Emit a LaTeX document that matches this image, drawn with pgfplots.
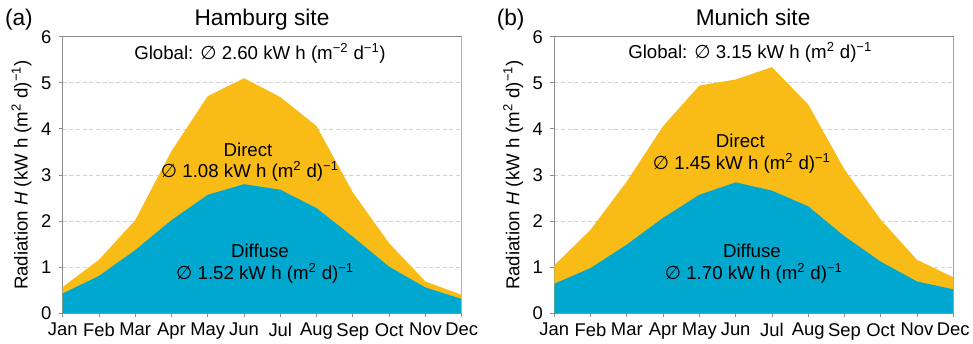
\documentclass[border=0pt]{standalone}
\usepackage{pgfplots}
\pgfplotsset{compat=1.18}
\usepackage{fontspec}
\setmainfont{Liberation Sans}
\newfontfamily\symfont{DejaVu Sans}
\definecolor{dirc}{HTML}{F9BC16}
\definecolor{difc}{HTML}{00A8CF}
\definecolor{axc}{HTML}{8C8C8C}
\newcommand{\avg}{{\symfont\char"2205}}
\newcommand{\supm}[1]{\textsuperscript{#1}}
\tikzset{ann/.style={font=\fontsize{14}{16}\selectfont, inner sep=1pt}}

\pgfplotstableread{
m total diffuse
0 0.57 0.43
1 1.16 0.81
2 2.02 1.37
3 3.52 2.02
4 4.71 2.57
5 5.10 2.80
6 4.69 2.68
7 4.06 2.28
8 2.62 1.66
9 1.52 1.01
10 0.69 0.56
11 0.40 0.31
}\hamburg

\pgfplotstableread{
m total diffuse
0 1.04 0.64
1 1.81 0.98
2 2.86 1.49
3 4.06 2.07
4 4.94 2.57
5 5.07 2.84
6 5.34 2.66
7 4.53 2.32
8 3.12 1.67
9 2.03 1.12
10 1.16 0.69
11 0.78 0.52
}\munich

\pgfplotsset{
  radstyle/.style={
    scale only axis,
    width=299.25pt, height=207.45pt,
    xmin=0, xmax=11, ymin=0, ymax=6,
    xtick={0,...,11},
    xticklabels={Jan,Feb,Mar,Apr,May,Jun,Jul,Aug,Sep,Oct,Nov,Dec},
    ytick={0,...,6},
    tick align=outside,
    major tick length=3pt,
    tick style={axc, line width=0.6pt},
    xtick pos=bottom, ytick pos=left,
    ymajorgrids,
    grid style={densely dashed, gray!35, line width=0.5pt},
    axis line style={axc, line width=0.8pt},
    /pgf/number format/assume math mode=true,
    ticklabel style={font=\fontsize{13.8}{15}\selectfont},
    xticklabel style={yshift=-1pt, inner xsep=0pt},
    yticklabel style={xshift=-2pt},
    ylabel={Radiation \textit{H} (kW h (m\supm{2} d)\supm{−1})},
    ylabel style={at={(axis description cs:-0.103,0.5)}, anchor=center, font=\fontsize{14}{16}\selectfont},
  }
}

\begin{document}
\begin{tikzpicture}
\path[use as bounding box] (0,0) rectangle (729.75pt,257.25pt);

\node[anchor=base, font=\fontsize{17}{19}\selectfont] at (14.2pt,237.75pt) {(a)};
\node[anchor=base, font=\fontsize{17}{19}\selectfont] at (196.5pt,237.75pt) {Hamburg site};
\node[anchor=base, font=\fontsize{17}{19}\selectfont] at (383pt,237.75pt) {(b)};
\node[anchor=base, font=\fontsize{17}{19}\selectfont] at (564.8pt,237.75pt) {Munich site};

\begin{axis}[radstyle, at={(47.0pt,22.3pt)}, anchor=south west]
\addplot[fill=dirc, draw=none] table[x=m, y=total] {\hamburg} \closedcycle;
\addplot[fill=difc, draw=none] table[x=m, y=diffuse] {\hamburg} \closedcycle;
\draw[axc!50, line width=0.8pt] (axis cs:11,0) -- (axis cs:11,6);
\node[ann] at (axis cs:5.44,5.64) {Global: \avg{} 2.60 kW h (m\supm{−2} d\supm{−1})};
\node[ann] at (axis cs:5.11,3.54) {Direct};
\node[ann] at (axis cs:5.16,3.07) {\avg{} 1.08 kW h (m\supm{2} d)\supm{−1}};
\node[ann] at (axis cs:5.44,1.36) {Diffuse};
\node[ann] at (axis cs:5.58,0.87) {\avg{} 1.52 kW h (m\supm{2} d)\supm{−1}};
\end{axis}

\begin{axis}[radstyle, at={(415.7pt,22.3pt)}, anchor=south west]
\addplot[fill=dirc, draw=none] table[x=m, y=total] {\munich} \closedcycle;
\addplot[fill=difc, draw=none] table[x=m, y=diffuse] {\munich} \closedcycle;
\draw[axc!50, line width=0.8pt] (axis cs:11,0) -- (axis cs:11,6);
\node[ann] at (axis cs:5.40,5.65) {Global: \avg{} 3.15 kW h (m\supm{2} d)\supm{−1}};
\node[ann] at (axis cs:5.13,3.73) {Direct};
\node[ann] at (axis cs:5.17,3.26) {\avg{} 1.45 kW h (m\supm{2} d)\supm{−1}};
\node[ann] at (axis cs:5.45,1.36) {Diffuse};
\node[ann] at (axis cs:5.50,0.87) {\avg{} 1.70 kW h (m\supm{2} d)\supm{−1}};
\end{axis}
\end{tikzpicture}
\end{document}
